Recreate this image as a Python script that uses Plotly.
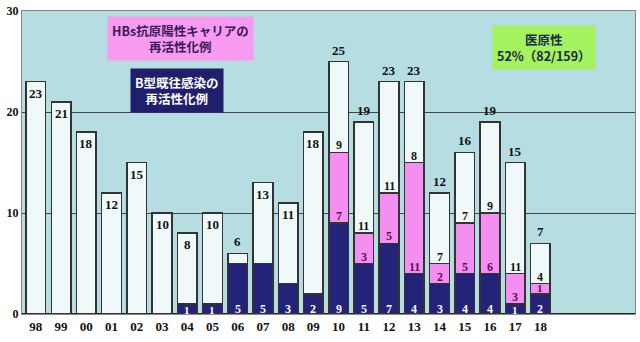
import plotly.graph_objects as go

years = ["98","99","00","01","02","03","04","05","06","07","08","09",
         "10","11","12","13","14","15","16","17","18"]
navy = [0,0,0,0,0,0,1,1,5,5,3,2,9,5,7,4,3,4,4,1,2]
pink = [0,0,0,0,0,0,0,0,0,0,0,0,7,3,5,11,2,5,6,3,1]
white = [23,21,18,12,15,10,7,9,1,8,8,16,9,11,11,8,7,7,9,11,4]
totals = [a+b+c for a,b,c in zip(navy,pink,white)]

C_NAVY = "#23237a"
C_PINK = "#f48ef0"
C_WHITE = "#f0f9f9"
C_BG = "#b6dde1"
LINE = "#333333"

fig = go.Figure()
for vals, col in [(navy, C_NAVY), (pink, C_PINK), (white, C_WHITE)]:
    fig.add_trace(go.Bar(x=years, y=vals, marker=dict(color=col, line=dict(color=LINE, width=1.5)),
                         width=0.78, showlegend=False, hoverinfo="skip"))

font_b = "Liberation Serif"
ann = []
for i, y in enumerate(years):
    if navy[i] > 0:
        ann.append(dict(x=i, y=0, text=f"<b>{navy[i]}</b>", showarrow=False, yanchor="bottom",
                        font=dict(color="white", size=12 if navy[i] > 1 else 11, family=font_b),
                        yshift=-3, borderpad=0))
    if pink[i] > 0:
        ann.append(dict(x=i, y=navy[i], text=f"<b>{pink[i]}</b>", showarrow=False, yanchor="bottom",
                        font=dict(color="#5a1060", size=12 if pink[i] > 1 else 11, family=font_b),
                        yshift=-1, borderpad=0))
    if pink[i] > 0:
        ann.append(dict(x=i, y=navy[i]+pink[i], text=f"<b>{white[i]}</b>", showarrow=False, yanchor="bottom",
                        font=dict(color="#111111", size=12, family=font_b), yshift=-1, borderpad=0))
    inside = (pink[i] == 0 and white[i] > 2)
    ann.append(dict(x=i, y=totals[i], text=f"<b>{totals[i]}</b>", showarrow=False,
                    yanchor="top" if inside else "bottom", yshift=-2 if inside else 2,
                    font=dict(color="#111111", size=13, family=font_b)))

boxes = [
    (0.259, 0.985, "<b>HBs抗原陽性キャリアの<br>再活性化例</b>", "#f79bf0", "#3a1a5a"),
    (0.253, 0.812, "<b>B型既往感染の<br>再活性化例</b>", "#1f1f6b", "#ffffff"),
    (0.851, 0.955, "<b>医原性<br>52%（82/159）</b>", "#a3f25e", "#1a2a4a"),
]
for x, yy, t, bg, fc in boxes:
    ann.append(dict(xref="paper", yref="paper", x=x, y=yy, xanchor="center", yanchor="top",
                    text=t, showarrow=False, bgcolor=bg, borderpad=4,
                    font=dict(color=fc, size=12.5, family="Noto Sans CJK JP")))

fig.update_layout(
    width=640, height=342,
    margin=dict(l=22, r=5, t=11, b=28),
    paper_bgcolor="white", plot_bgcolor=C_BG,
    barmode="stack",
    annotations=ann,
    xaxis=dict(type="category", range=[-0.55, 23.75], showgrid=False, ticks="",
               tickfont=dict(family=font_b, size=13, color="#111", weight="bold"),
               showline=True, linecolor="#888", mirror=True),
    yaxis=dict(range=[0, 30], tickvals=[0,10,20,30], showgrid=True, gridcolor="#444", gridwidth=1,
               zeroline=True, zerolinecolor="#222", zerolinewidth=2, layer="above traces",
               tickfont=dict(family=font_b, size=12, color="#111", weight="bold"),
               showline=True, linecolor="#888", mirror=True, ticklen=0),
)
fig.write_html("out.html")
